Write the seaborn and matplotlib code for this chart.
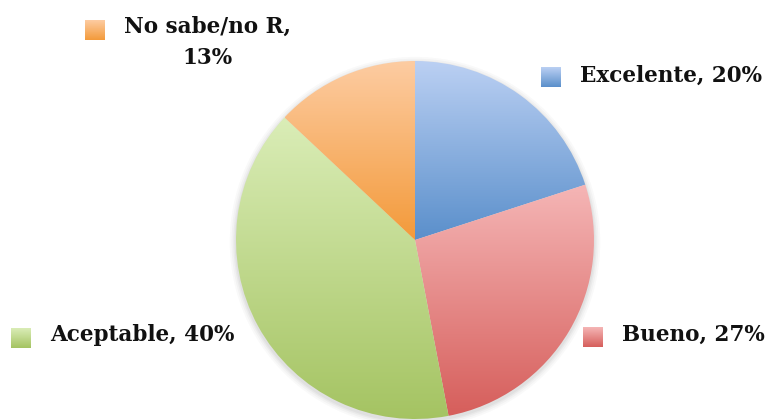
import numpy as np
import matplotlib
matplotlib.use("Agg")
import matplotlib.pyplot as plt
import seaborn as sns
from matplotlib.colors import LinearSegmentedColormap
from matplotlib.patches import Circle

sns.set_theme(style="white")
plt.rcParams["font.family"] = ["DejaVu Serif"]

# Survey answers (percent)
categories = ["Excelente", "Bueno", "Aceptable", "No sabe/no R"]
values = [20, 27, 40, 13]
label_texts = ["Excelente, 20%", "Bueno, 27%", "Aceptable, 40%", "No sabe/no R,\n13%"]

# light (top) -> dark (bottom) gradient for each slice
tops = ["#BBD0F3", "#F5B6B6", "#DAEDB7", "#FDCCA2"]
bottoms = ["#5A8FCB", "#D65E5B", "#A4C361", "#F39A3A"]

W, H = 773, 420
fig = plt.figure(figsize=(W / 100, H / 100), dpi=100)
fig.patch.set_facecolor("white")

cx, cy, r = 415, 240, 179
ax = fig.add_axes([(cx - r) / W, (H - cy - r) / H, 2 * r / W, 2 * r / H])
ax.set_xlim(-1, 1)
ax.set_ylim(-1, 1)
ax.set_aspect("equal")
ax.axis("off")

# soft shadow around the pie
for rad, a in [(1.035, 0.03), (1.025, 0.04), (1.015, 0.05), (1.007, 0.06)]:
    ax.add_patch(Circle((0.0, -0.012), rad, facecolor="#505050", edgecolor="none",
                        alpha=a, zorder=0, clip_on=False))

wedges, _ = ax.pie(values, startangle=90, counterclock=False, radius=1,
                   center=(0, 0), wedgeprops=dict(linewidth=0, edgecolor="none"))

grad = np.linspace(0, 1, 256).reshape(-1, 1)
for w, c0, c1 in zip(wedges, tops, bottoms):
    w.set_facecolor("none")
    w.set_clip_on(False)
    verts = w.get_path().transformed(w.get_patch_transform()).vertices
    x0, x1 = verts[:, 0].min(), verts[:, 0].max()
    y0, y1 = verts[:, 1].min(), verts[:, 1].max()
    cmap = LinearSegmentedColormap.from_list("g", [c0, c1])
    # row 0 (light) drawn at the top of the slice
    im = ax.imshow(grad, cmap=cmap, extent=(x0, x1, y0, y1), origin="upper",
                   aspect="auto", interpolation="bilinear", zorder=2)
    im.set_clip_path(w)
ax.set_xlim(-1, 1)
ax.set_ylim(-1, 1)

# legend-style labels with gradient swatches
def swatch(x, y, size, c0, c1):
    sax = fig.add_axes([x / W, (H - y - size) / H, size / W, size / H])
    sax.imshow(grad, cmap=LinearSegmentedColormap.from_list("s", [c0, c1]),
               aspect="auto", extent=(0, 1, 0, 1), origin="upper",
               interpolation="bilinear")
    sax.axis("off")

fs = 15.5
label_pos = [
    # swatch x, swatch y, text x, text y, ha
    (541, 67, 580, 76, "left"),
    (583, 327, 622, 335, "left"),
    (11, 328, 50, 335, "left"),
    (85, 20, 208, 42, "center"),
]
for (sx, sy, tx, ty, ha), txt, c0, c1 in zip(label_pos, label_texts, tops, bottoms):
    swatch(sx, sy, 20, c0, c1)
    fig.text(tx / W, 1 - ty / H, txt, ha=ha, va="center", fontsize=fs,
             fontweight="bold", color="#111111", linespacing=1.55)

fig.savefig("out.png", dpi=100, facecolor="white")
